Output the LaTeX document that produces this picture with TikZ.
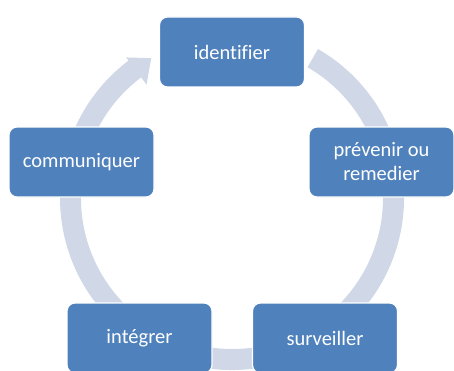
\documentclass[tikz,border=0pt]{standalone}
\usepackage{fontspec}
\setmainfont[Ligatures=NoCommon]{Carlito}
\definecolor{boxblue}{RGB}{79,129,189}
\definecolor{ringblue}{RGB}{208,216,232}

\begin{document}
\begin{tikzpicture}[x=1pt, y=1pt,
	etape/.style={draw=white, line width=1.2pt, fill=boxblue, rounded corners=8pt,
		minimum width=145pt, minimum height=70pt, text=white, align=center,
		font=\fontsize{20.5}{24}\selectfont}]
	
	\useasboundingbox (0,0) rectangle (454,370);
	
	% Ring with its arrow head, behind the boxes
	\begin{scope}[shift={(232,172)}]
		\fill[ringblue] (60:172pt) arc[start angle=60, end angle=-233, radius=172pt]
			-- (-233:176pt) -- (-240:161.5pt) -- (-233:142pt) -- (-233:151pt)
			arc[start angle=-233, end angle=60, radius=151pt] -- cycle;
	\end{scope}
	
	% The five steps
	\node[etape] (ident) at (232,318) {identifier};
	\node[etape] (prev) at (381.5,208) {prévenir ou\\remedier};
	\node[etape] (surv) at (325,32) {surveiller};
	\node[etape] (integ) at (139.5,32) {intégrer};
	\node[etape] (comm) at (81.5,208) {communiquer};
\end{tikzpicture}
\end{document}
